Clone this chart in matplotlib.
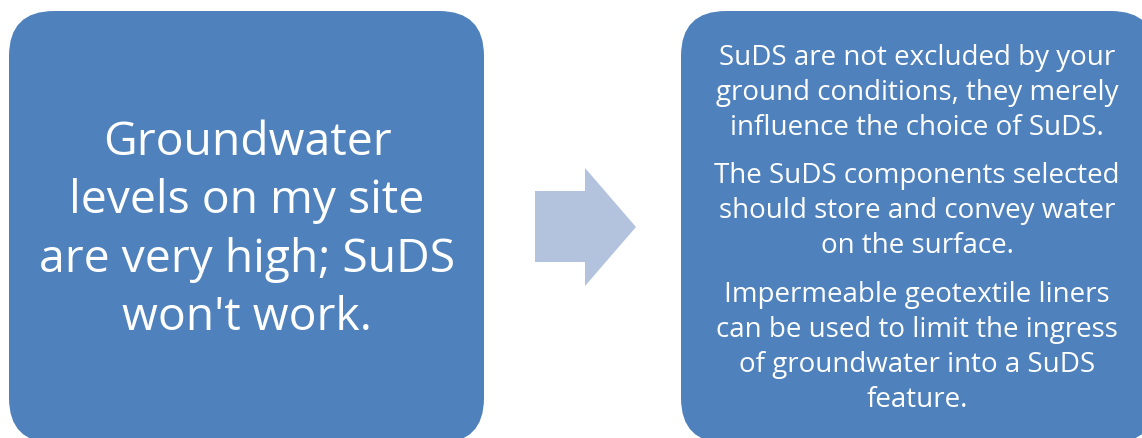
import matplotlib.pyplot as plt
from matplotlib.patches import FancyBboxPatch, Polygon

W, H = 1142, 439
BOX_BLUE = '#4f81bd'
ARROW_BLUE = '#b3c3de'
FONT = 'Open Sans'

left_lines = ["Groundwater", "levels on my site", "are very high; SuDS", "won't work."]
right_paragraphs = [
    ["SuDS are not excluded by your", "ground conditions, they merely", "influence the choice of SuDS."],
    ["The SuDS components selected", "should store and convey water", "on the surface."],
    ["Impermeable geotextile liners", "can be used to limit the ingress", "of groundwater into a SuDS", "feature."],
]

fig = plt.figure(figsize=(W / 100, H / 100), dpi=100)
ax = fig.add_axes([0, 0, 1, 1])
ax.set_xlim(0, W)
ax.set_ylim(H, 0)
ax.axis('off')

# boxes
ax.add_patch(FancyBboxPatch((9, 12), 475, 432, boxstyle='round,pad=0,rounding_size=45',
                            fc=BOX_BLUE, ec='none'))
ax.add_patch(FancyBboxPatch((681, 12), 475, 432, boxstyle='round,pad=0,rounding_size=45',
                            fc=BOX_BLUE, ec='none'))

# arrow
ax.add_patch(Polygon([(535, 192), (585, 192), (585, 169), (636, 228),
                      (585, 287), (585, 263), (535, 263)], closed=True,
                     fc=ARROW_BLUE, ec='none'))

# left text (baselines)
y = 155
for line in left_lines:
    ax.text(247, y, line, ha='center', va='baseline', color='white',
            fontsize=33.3, family=FONT)
    y += 58.3

# right text
y = 65
for para in right_paragraphs:
    for line in para:
        ax.text(917, y, line, ha='center', va='baseline', color='white',
                fontsize=20, family=FONT)
        y += 35
    y += 13.5

fig.savefig('out.png', dpi=100)
